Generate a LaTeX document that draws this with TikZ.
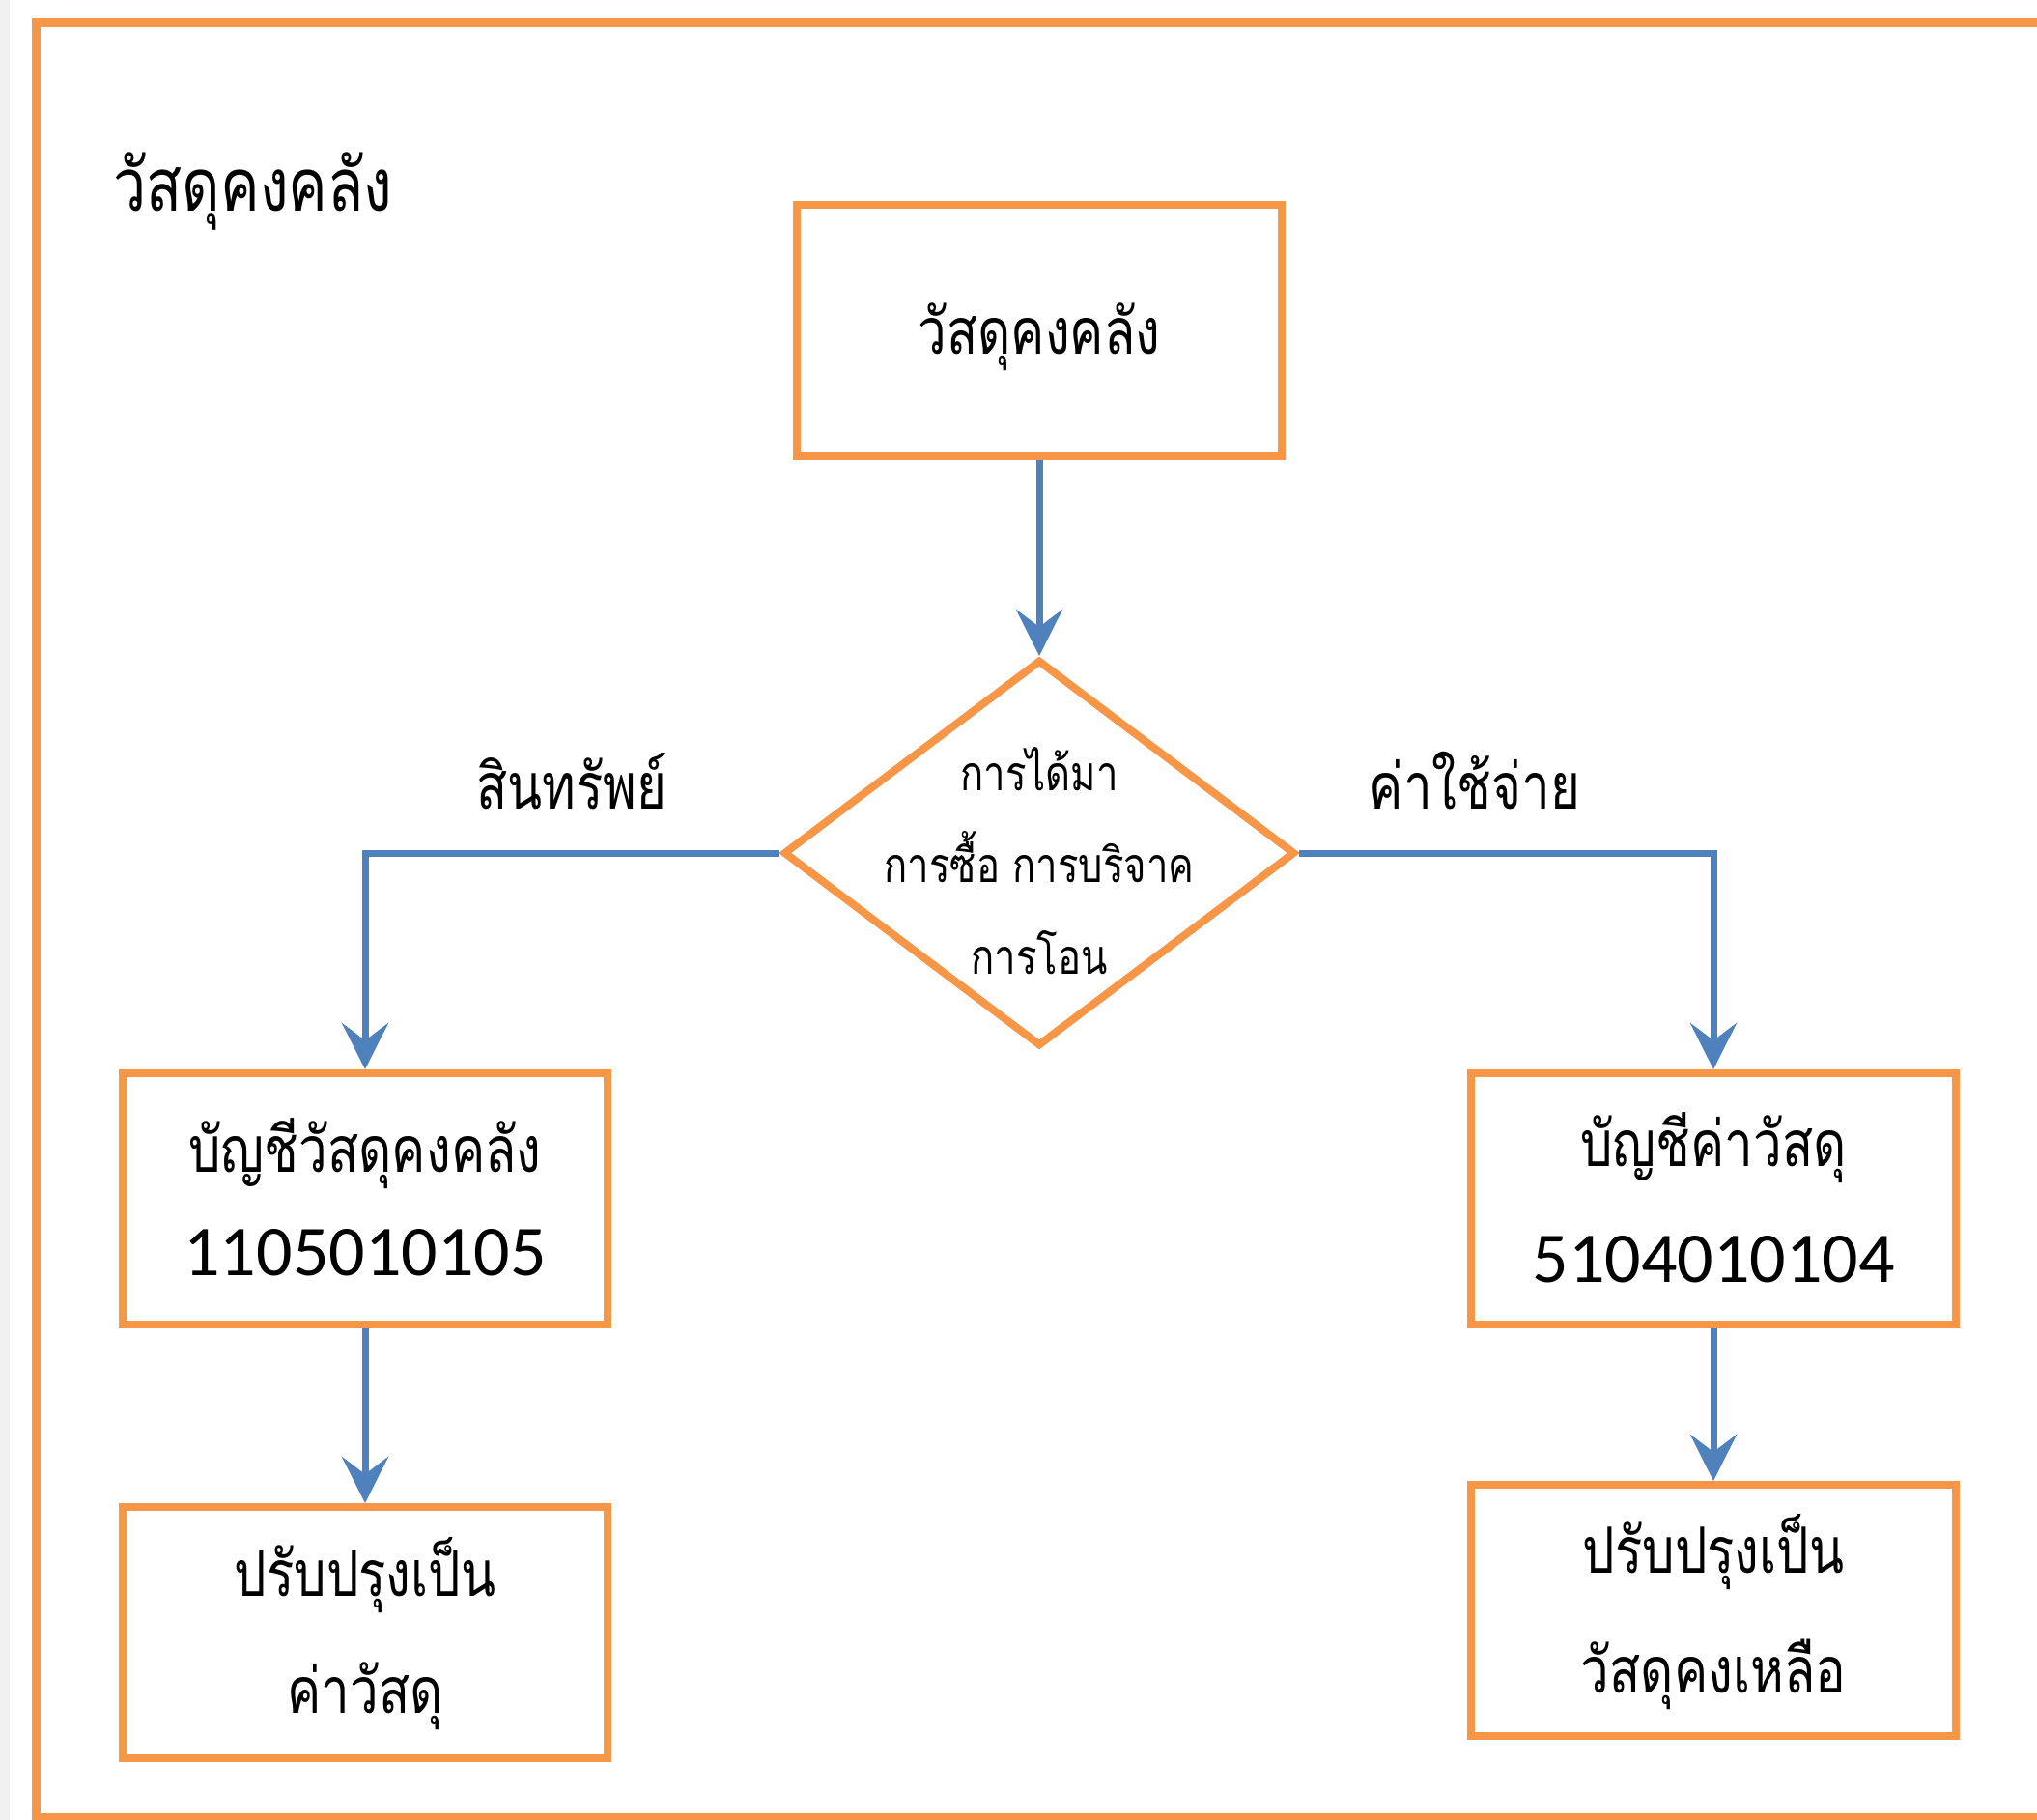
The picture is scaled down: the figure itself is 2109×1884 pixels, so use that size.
\documentclass[tikz,border=0pt]{standalone}
\usepackage{fontspec}
\usepackage{xcolor}
\usepackage{tikz}
\usetikzlibrary{arrows.meta}
\usetikzlibrary{shapes.geometric}
\newfontfamily\thaifont[Script=Thai,FakeStretch=0.8]{Loma}
\newfontfamily\numfont{Carlito}
\definecolor{boxorange}{HTML}{F79646}
\definecolor{flowblue}{HTML}{4F81BD}
\tikzstyle{frame}=[draw=boxorange,line width=4.5pt]
\tikzstyle{stepbox}=[draw=boxorange,line width=4pt,rectangle,inner sep=0pt,minimum width=251pt,minimum height=130pt]
\tikzstyle{choice}=[draw=boxorange,line width=4pt,diamond,inner sep=0pt,minimum width=265pt,minimum height=200pt]
\tikzstyle{txt}=[anchor=base,inner sep=0pt,font=\thaifont\fontsize{33}{36}\selectfont]
\tikzstyle{smalltxt}=[anchor=base,inner sep=0pt,font=\thaifont\fontsize{25}{28}\selectfont]
\tikzstyle{numtxt}=[anchor=base,inner sep=0pt,font=\numfont\fontsize{37}{40}\selectfont]
\tikzstyle{flow}=[draw=flowblue,line width=3.5pt,-{Stealth[length=24pt,width=24pt,inset=9pt]}]

\begin{document}
\begin{tikzpicture}[x=0.5pt,y=-0.5pt]
	\useasboundingbox (0,0) rectangle (2109,1884);
	\fill[white] (0,0) rectangle (2109,1884);
	\fill[black!6] (0,0) rectangle (10,1884);
	\draw[frame] (37,24) rectangle (2116,1881);
	\node[txt,font=\thaifont\fontsize{38}{40}\selectfont] (title) at (262,218) {วัสดุคงคลัง};
	% boxes
	\node[stepbox] (stock)    at (1076,342)  {};
	\node[choice]  (get)      at (1076,883)  {};
	\node[stepbox] (stockacc) at (378,1241)  {};
	\node[stepbox] (expacc)   at (1774,1241) {};
	\node[stepbox] (adjexp)   at (378,1690)  {};
	\node[stepbox] (adjstock) at (1774,1667) {};
	% texts
	\node[txt] (stocktxt) at (1076,366) {วัสดุคงคลัง};
	\node[smalltxt] (gettxta) at (1076,818)  {การได้มา};
	\node[smalltxt] (gettxtb) at (1076,913)  {การซื้อ การบริจาค};
	\node[smalltxt] (gettxtc) at (1076,1008) {การโอน};
	\node[txt] (asset)   at (592,837)  {สินทรัพย์};
	\node[txt] (expense) at (1527,837) {ค่าใช้จ่าย};
	\node[txt]    (stockacca) at (378,1213)  {บัญชีวัสดุคงคลัง};
	\node[numtxt] (stockaccb) at (378,1320)  {1105010105};
	\node[txt]    (expacca)   at (1774,1207) {บัญชีค่าวัสดุ};
	\node[numtxt] (expaccb)   at (1774,1327) {5104010104};
	\node[txt] (adjexpa)   at (378,1652)  {ปรับปรุงเป็น};
	\node[txt] (adjexpb)   at (378,1773)  {ค่าวัสดุ};
	\node[txt] (adjstocka) at (1774,1628) {ปรับปรุงเป็น};
	\node[txt] (adjstockb) at (1774,1752) {วัสดุคงเหลือ};
	% connectors
	\draw[flow] (stock) -- (get);
	\draw[flow] (get.west) -| (stockacc.north);
	\draw[flow] (get.east) -| (expacc.north);
	\draw[flow] (stockacc) -- (adjexp);
	\draw[flow] (expacc) -- (adjstock);
\end{tikzpicture}
\end{document}
